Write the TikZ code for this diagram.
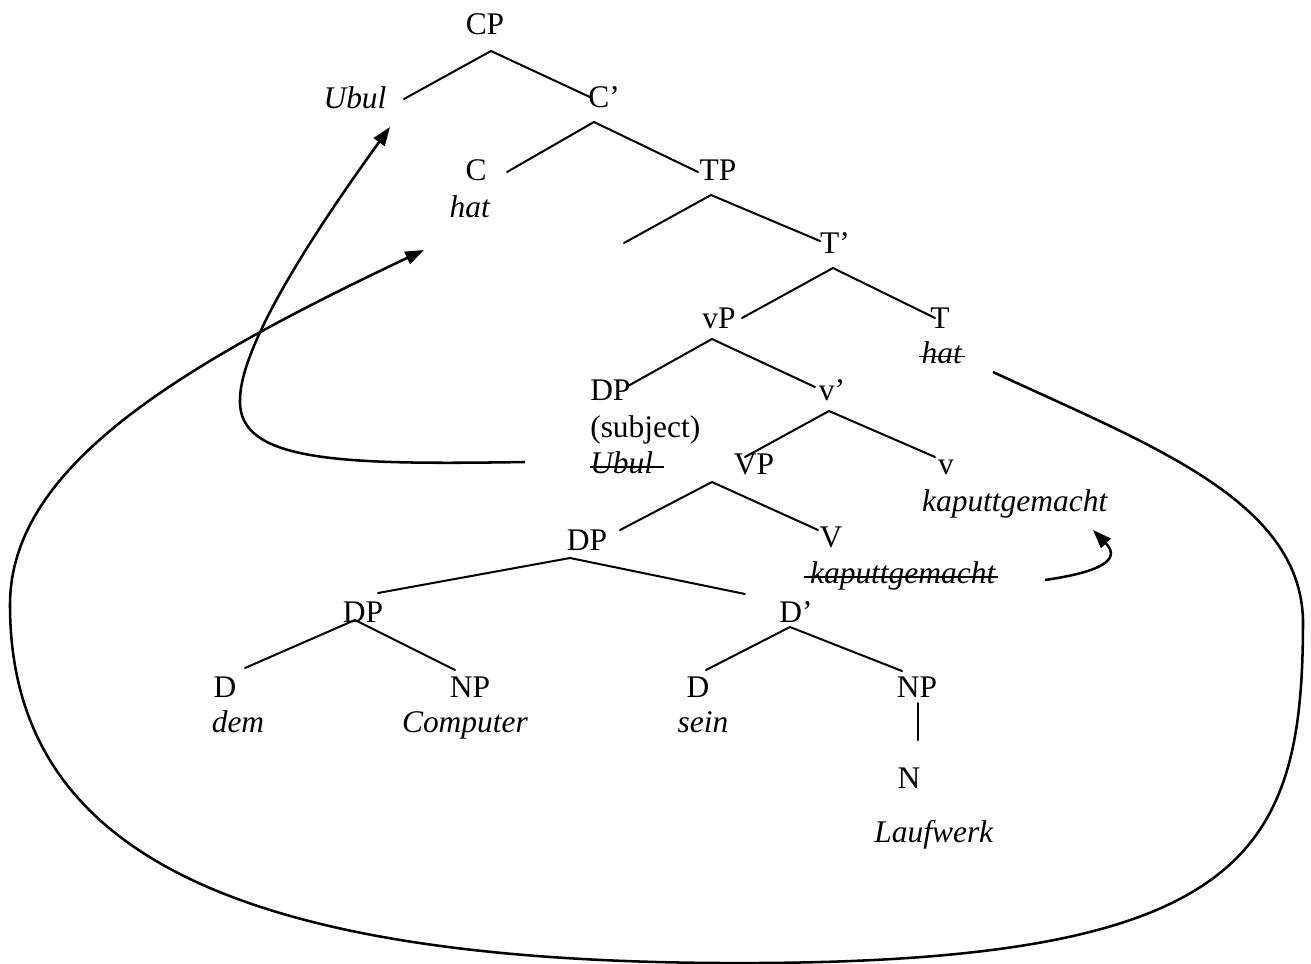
\documentclass[tikz,border=0pt]{standalone}
\usepackage{fontspec}
\setmainfont{Liberation Serif}
\usetikzlibrary{arrows.meta}

\begin{document}
\begin{tikzpicture}[x=0.75pt, y=-0.75pt,
  lbl/.style={anchor=base, inner sep=0pt, font=\fontsize{23.6}{28}\selectfont},
  lblw/.style={lbl, anchor=base west},
  branch/.style={line width=1.5pt, line cap=round},
  strike/.style={line width=1.3pt},
  move/.style={line width=1.9pt, -{Triangle[length=14pt,width=10pt]}}]
\useasboundingbox (0,0) rectangle (1311,964);

% ---- labels ----
\node[lbl] (cp)    at (485,34)  {CP};
\node[lbl] (ubul)  at (355,108) {\textit{Ubul}};
\node[lbl] (cbar)  at (604,107) {C’};
\node[lbl] (c)     at (476,180) {C};
\node[lbl] (chat)  at (470,217) {\textit{hat}};
\node[lbl] (tp)    at (718,180) {TP};
\node[lbl] (tbar)  at (835,253) {T’};
\node[lbl] (vp)    at (719,328) {vP};
\node[lbl] (t)     at (940,328) {T};
\node[lbl] (that)  at (942,363) {\textit{hat}};
\node[lblw] (dps)  at (590,400) {DP};
\node[lblw] (subj) at (590,437) {(subject)};
\node[lblw] (ubul2) at (590,473) {\textit{Ubul}};
\node[lbl] (vbar)  at (832,400) {v’};
\node[lbl] (vvp)   at (754,474) {VP};
\node[lbl] (v)     at (946,474) {v};
\node[lbl] (kap1)  at (1015,511) {\textit{kaputtgemacht}};
\node[lbl] (dpo)   at (587,550) {DP};
\node[lbl] (vv)    at (831,547) {V};
\node[lbl] (kap2)  at (903,583) {\textit{kaputtgemacht}};
\node[lbl] (dpa)   at (363,622) {DP};
\node[lbl] (dbar)  at (796,622) {D’};
\node[lbl] (d1)    at (225,697) {D};
\node[lbl] (dem)   at (238,732) {\textit{dem}};
\node[lbl] (np1)   at (470,697) {NP};
\node[lbl] (comp)  at (465,732) {\textit{Computer}};
\node[lbl] (d2)    at (698,697) {D};
\node[lbl] (sein)  at (703,732) {\textit{sein}};
\node[lbl] (np2)   at (917,697) {NP};
\node[lbl] (n)     at (909,788) {N};
\node[lbl] (lauf)  at (934,842) {\textit{Laufwerk}};

% ---- strike-through on the traces ----
\draw[strike] ([xshift=-2pt,yshift=4.8pt]that.base west) -- ([xshift=2pt,yshift=4.8pt]that.base east);
\draw[strike] ([yshift=4.3pt]ubul2.base west) -- ([xshift=8pt,yshift=4.3pt]ubul2.base east);
\draw[strike] ([xshift=-4pt,yshift=4.3pt]kap2.base west) -- ([xshift=1pt,yshift=4.3pt]kap2.base east);

% ---- branch points and branch ends ----
\coordinate (cp-b)   at (491,51);
\coordinate (ubul-e) at (404,99);
\coordinate (cbar-e) at (592,98);
\coordinate (cbar-b) at (594,122);
\coordinate (c-e)    at (507,172);
\coordinate (tp-e)   at (698,172);
\coordinate (tp-b)   at (711,195);
\coordinate (spec-e) at (624,243);
\coordinate (tbar-e) at (820,241);
\coordinate (tbar-b) at (833,268);
\coordinate (vp-e)   at (742,318);
\coordinate (t-e)    at (935,318);
\coordinate (vp-b)   at (712,339);
\coordinate (dps-e)  at (628,386);
\coordinate (vbar-e) at (815,387);
\coordinate (vbar-b) at (829,411);
\coordinate (vvp-e)  at (745,457);
\coordinate (v-e)    at (935,457);
\coordinate (vvp-b)  at (712,482);
\coordinate (dpo-e)  at (620,530);
\coordinate (vv-e)   at (818,530);
\coordinate (dpo-b)  at (570,558);
\coordinate (dpa-e)  at (378,593);
\coordinate (dbar-e) at (745,594);
\coordinate (dpa-b)  at (355,620);
\coordinate (d1-e)   at (245,668);
\coordinate (np1-e)  at (455,670);
\coordinate (dbar-b) at (790,627);
\coordinate (d2-e)   at (706,670);
\coordinate (np2-e)  at (902,671);
\coordinate (np2-b)  at (918,703);
\coordinate (n-e)    at (918,740);

% ---- tree branches ----
\draw[branch] (ubul-e) -- (cp-b) -- (cbar-e);
\draw[branch] (c-e) -- (cbar-b) -- (tp-e);
\draw[branch] (spec-e) -- (tp-b) -- (tbar-e);
\draw[branch] (vp-e) -- (tbar-b) -- (t-e);
\draw[branch] (dps-e) -- (vp-b) -- (vbar-e);
\draw[branch] (vvp-e) -- (vbar-b) -- (v-e);
\draw[branch] (dpo-e) -- (vvp-b) -- (vv-e);
\draw[branch] (dpa-e) -- (dpo-b) -- (dbar-e);
\draw[branch] (d1-e) -- (dpa-b) -- (np1-e);
\draw[branch] (d2-e) -- (dbar-b) -- (np2-e);
\draw[branch] (np2-b) -- (n-e);

% ---- movement arrows ----
\coordinate (ubul-src) at (525,462);
\coordinate (ubul-tgt) at (390,127);
\draw[move] (ubul-src) .. controls (340,465) and (238,462) .. (240,400)
  .. controls (240,340) and (330,210) .. (ubul-tgt);

\coordinate (hat-src) at (993,372);
\coordinate (hat-tgt) at (424,250);
\draw[move] (hat-src) .. controls (1150,445) and (1300,500) .. (1303,620)
  .. controls (1303,850) and (1250,960) .. (760,963)
  .. controls (250,966) and (10,860) .. (10,605)
  .. controls (10,470) and (170,370) .. (hat-tgt);

\coordinate (kap-src) at (1045,580);
\coordinate (kap-tgt) at (1093,530);
\draw[move] (kap-src) .. controls (1100,572) and (1122,560) .. (kap-tgt);

\end{tikzpicture}
\end{document}
